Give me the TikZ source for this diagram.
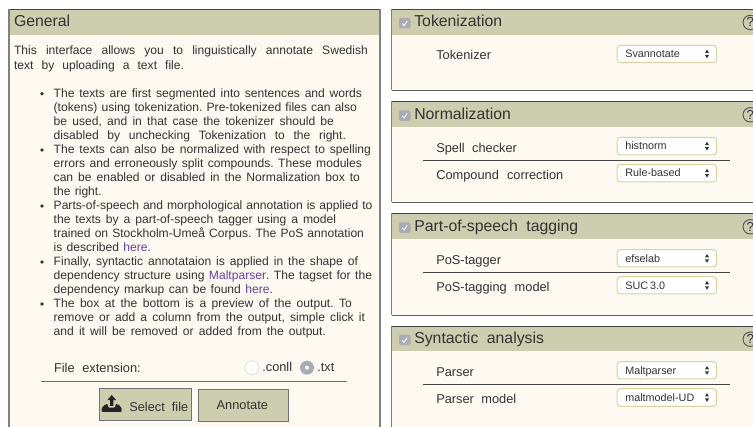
\documentclass[tikz,border=0pt]{standalone}
\usepackage{fontspec}
\setmainfont{Liberation Sans}
\frenchspacing
\definecolor{hdr}{HTML}{CDCDB0}
\definecolor{panelbg}{HTML}{FEF9F1}
\definecolor{ink}{HTML}{333333}
\definecolor{linkc}{HTML}{6B3FA8}
\definecolor{edgeD}{HTML}{444444}
\definecolor{edgeG}{HTML}{808080}
\definecolor{selb}{HTML}{D8D2A4}
\definecolor{chk}{HTML}{ABABB3}
\tikzset{
  x=1pt,y=-1pt,
  txt/.style={anchor=base west,inner sep=0pt,outer sep=0pt,text=ink,font=\fontsize{12.8}{14}\selectfont},
  para/.style={txt,font=\fontsize{12.1}{14}\selectfont},
  title/.style={txt,font=\fontsize{15.8}{18}\selectfont},
  seltxt/.style={txt,font=\fontsize{10.8}{12}\selectfont},
  selshape/.style={draw=selb,line width=1pt,fill=white,rounded corners=3.5pt},
  btn/.style={draw=edgeD!75!white,line width=1pt,fill=hdr},
  divider/.style={draw=edgeD,line width=0.9pt},
}
\newcommand{\lineat}[5]{\node[txt] (#1) at (#2,#3) {\hbox to #4pt{#5}};}
\newcommand{\paraat}[5]{\node[para] (#1) at (#2,#3) {\hbox to #4pt{#5}};}
\newcommand{\linkw}[1]{\textcolor{linkc}{#1}}
\newcommand{\panelbox}[5]{% x0, x1, top, headbottom, bottom
  \fill[panelbg] (#1,#3) rectangle (#2,#5);
  \fill[hdr] (#1,#3) rectangle (#2,#4);
  \draw[edgeD,line width=0.9pt] (#1,#3) -- (#2,#3);
  \draw[edgeG,line width=1.4pt] (#1,#3) -- (#1,#5);
  \draw[edgeG,line width=1.4pt] (#2,#3) -- (#2,#5);
  \draw[edgeD!85!white,line width=0.9pt] (#1,#5) -- (#2,#5);
}
\newcommand{\checkat}[1]{% top y
  \fill[chk,rounded corners=2pt] (399,#1) rectangle (410.5,{#1+10.5});
  \draw[white,line width=0.9pt] (402.3,{#1+5.5}) -- (404,{#1+7.6}) -- (407.3,{#1+3});
  \draw[ink!85!white,line width=0.9pt] (750.2,{#1+4.5}) circle (7.2);
}
\newcommand{\selbox}[6]{% name, top, bottom, text baseline, text width, text
  \draw[selshape] (617,#2) rectangle (716.7,#3);
  \node[seltxt] (#1) at (625.3,#4) {\hbox to #5pt{#6}};
  \fill[ink] (705,{(#2+#3)/2-1}) -- (709,{(#2+#3)/2-1}) -- (707,{(#2+#3)/2-4.4}) -- cycle;
  \fill[ink] (705,{(#2+#3)/2+1}) -- (709,{(#2+#3)/2+1}) -- (707,{(#2+#3)/2+4.4}) -- cycle;
}
\begin{document}
\begin{tikzpicture}
\useasboundingbox (0,0) rectangle (753,427);
\clip (0,0) rectangle (753,427);
\fill[white] (0,0) rectangle (753,427);

% left panel
\panelbox{9}{380}{9.5}{35}{432}
\node[title] (tgeneral) at (14,26.7) {\hbox to 56pt{General}};
\paraat{a1}{14}{55}{354}{This interface allows you to linguistically annotate Swedish}
\paraat{a2}{14}{70}{170}{text by uploading a text file.}
\foreach \yy in {93.8,150,206,262,304} \fill[ink] (42,\yy) circle (1.9);
\paraat{b1}{53.7}{97.3}{308.3}{The texts are first segmented into sentences and words}
\paraat{b2}{53.7}{111.3}{303.3}{(tokens) using tokenization. Pre-tokenized files can also}
\paraat{b3}{53.7}{125.3}{280.3}{be used, and in that case the tokenizer should be}
\paraat{b4}{53.7}{139.3}{292.3}{disabled by unchecking Tokenization to the right.}
\paraat{b5}{53.7}{153.4}{317.3}{The texts can also be normalized with respect to spelling}
\paraat{b6}{53.7}{167.4}{308.3}{errors and erroneously split compounds. These modules}
\paraat{b7}{53.7}{181.4}{306.3}{can be enabled or disabled in the Normalization box to}
\paraat{b8}{53.7}{195.5}{48}{the right.}
\paraat{b9}{53.7}{209.5}{318.8}{Parts-of-speech and morphological annotation is applied to}
\paraat{b10}{53.7}{223.5}{282.3}{the texts by a part-of-speech tagger using a model}
\paraat{b11}{53.7}{237.4}{310.3}{trained on Stockholm-Umeå Corpus. The PoS annotation}
\paraat{b12}{53.7}{251.4}{97.3}{is described \linkw{here}.}
\paraat{b13}{53.7}{265.4}{304.3}{Finally, syntactic annotataion is applied in the shape of}
\paraat{b14}{53.7}{279.4}{318.3}{dependency structure using \linkw{Maltparser}. The tagset for the}
\paraat{b15}{53.7}{293.4}{219.3}{dependency markup can be found \linkw{here}.}
\paraat{b16}{53.7}{307.4}{298.3}{The box at the bottom is a preview of the output. To}
\paraat{b17}{53.7}{321.4}{311.3}{remove or add a column from the output, simple click it}
\paraat{b18}{53.7}{335.4}{272.3}{and it will be removed or added from the output.}

\lineat{fe}{54}{372.3}{86.7}{File extension:}
\draw[black!12,fill=white,line width=0.8pt] (252,367.7) circle (7);
\lineat{conll}{262.3}{372}{29}{.conll}
\fill[chk] (307,367.7) circle (7);
\fill[white] (307,367.7) circle (2);
\lineat{txt}{317.3}{372}{16}{.txt}
\draw[edgeG!85!black,line width=1.1pt] (41,381.7) -- (347,381.7);

\draw[btn] (99.3,388.7) rectangle (191.3,421);
\fill[ink!70!black] (111.7,395) -- (116.2,400.2) -- (113.4,400.2) -- (113.4,406) -- (110,406) -- (110,400.2) -- (107.2,400.2) -- cycle;
\fill[ink!70!black,rounded corners=1pt] (101.7,412) -- (101.7,408) -- (105.5,404.2) -- (108,404.2) -- (108,407.6) -- (115.4,407.6) -- (115.4,404.2) -- (118,404.2) -- (121.7,408) -- (121.7,412) -- cycle;
\lineat{sel}{129.3}{411.7}{59}{Select file}
\draw[btn] (198.3,390) rectangle (288,421.3);
\lineat{ann}{216.7}{409.3}{54.3}{Annotate}

% right panels
\panelbox{391.5}{760}{9.5}{35}{90}
\checkat{18}
\node[title] (ttok) at (414.3,26.7) {\hbox to 89.7pt{Tokenization}};
\lineat{ltok}{436.3}{60}{56.7}{Tokenizer}
\selbox{stok}{45.3}{62.7}{58}{54.7}{Svannotate}

\panelbox{391.5}{760}{101.5}{127}{202}
\checkat{110.3}
\node[title] (tnorm) at (414.3,119.3) {\hbox to 97.3pt{Normalization}};
\lineat{lsp}{436.3}{152.7}{80.7}{Spell checker}
\lineat{lcomp}{436.3}{179.7}{127}{Compound correction}
\draw[divider] (423.3,160.3) -- (730,160.3);
\selbox{ssp}{137.3}{155}{150}{42}{histnorm}
\selbox{scomp}{164.3}{182}{177}{53.7}{Rule-based}

\panelbox{391.5}{760}{213.5}{239}{315}
\checkat{222.3}
\node[title] (tpos) at (414.3,231.3) {\hbox to 164pt{Part-of-speech tagging}};
\lineat{lpos}{436.3}{264.3}{65.3}{PoS-tagger}
\lineat{lposm}{436.3}{291.3}{113.3}{PoS-tagging model}
\draw[divider] (423.3,272.7) -- (730,272.7);
\selbox{spos}{249.7}{267}{262.3}{34.3}{efselab}
\selbox{sposm}{276.7}{294}{289.3}{38.3}{SUC 3.0}

\panelbox{391.5}{760}{326}{351}{432}
\checkat{334.7}
\node[title] (tsyn) at (414.3,343.7) {\hbox to 129.7pt{Syntactic analysis}};
\lineat{lpar}{436.3}{376.7}{37.7}{Parser}
\lineat{lparm}{436.3}{403.7}{80}{Parser model}
\draw[divider] (423.3,384.7) -- (730,384.7);
\selbox{spar}{361.7}{379}{374.3}{50.7}{Maltparser}
\selbox{sparm}{388.7}{406.3}{401.3}{69.7}{maltmodel-UD}

% help marks
\foreach \nm/\yy in {q1/27,q2/119.5,q3/231.5,q4/344}
  \node[txt,font=\fontsize{13}{14}\selectfont] (\nm) at (746.5,\yy) {?};
\end{tikzpicture}
\end{document}
